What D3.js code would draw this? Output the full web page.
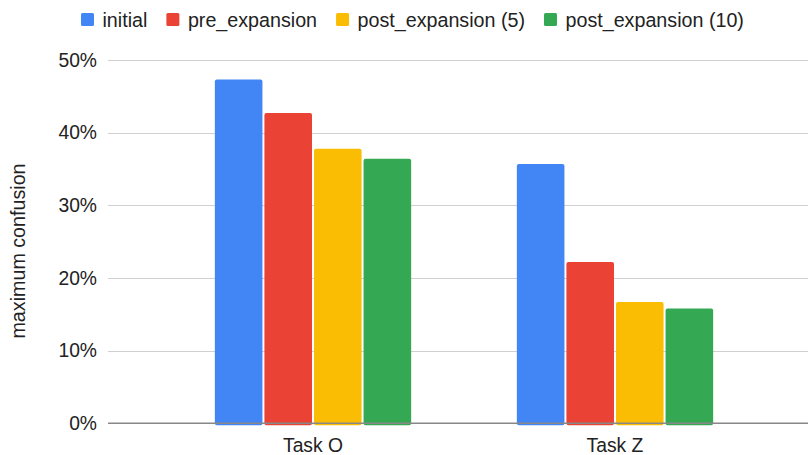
<!DOCTYPE html>
<html><head><meta charset="utf-8">
<script src="https://cdn.jsdelivr.net/npm/d3@7"></script>
<style>body{margin:0;background:#fff}svg{display:block;font-family:Arial,"Liberation Sans",sans-serif}</style>
</head><body>
<svg id="c" width="808" height="455"></svg>
<script>
const categories = ["Task O", "Task Z"];
const seriesNames = ["initial", "pre_expansion", "post_expansion (5)", "post_expansion (10)"];
const initial = [0.473, 0.357];
const preExpansion = [0.427, 0.222];
const postExpansion5 = [0.378, 0.167];
const postExpansion10 = [0.364, 0.158];
const yTicks = [0, 0.1, 0.2, 0.3, 0.4, 0.5];
const colors = ["#4285F4", "#EA4335", "#FBBC04", "#34A853"];
const yLabel = "maximum confusion";

const seriesValues = [initial, preExpansion, postExpansion5, postExpansion10];
const svg = d3.select("#c");
const plotLeft = 108, plotRight = 808, plotTop = 60, plotBottom = 423.3;
const FONT = "Arial, 'Liberation Sans', sans-serif";

const y = d3.scaleLinear().domain([0, 0.5]).range([plotBottom, plotTop]);
const x0 = d3.scaleBand().domain(categories).range([162, 766]).paddingInner(0.35).paddingOuter(0.175);
const x1 = d3.scaleBand().domain(seriesNames).range([0, x0.bandwidth()]).paddingInner(0.04);

// gridlines
svg.append("g").selectAll("line").data(yTicks.filter(d => d > 0)).join("line")
  .attr("x1", plotLeft).attr("x2", plotRight)
  .attr("y1", d => Math.round(y(d)) + 0.5).attr("y2", d => Math.round(y(d)) + 0.5)
  .attr("stroke", "#d0d0d0").attr("stroke-width", 1);

// y tick labels
const yAxis = d3.axisLeft(y).tickValues(yTicks).tickFormat(d3.format(".0%")).tickSize(0).tickPadding(0);
const ya = svg.append("g").attr("transform", `translate(97,0)`).call(yAxis);
ya.select(".domain").remove();
ya.selectAll("text").attr("font-size", 19.3).attr("fill", "#222").attr("font-family", FONT);

// bars
const groups = svg.append("g").selectAll("g").data(categories).join("g")
  .attr("transform", d => `translate(${x0(d)},0)`);
groups.selectAll("rect").data((d, i) => seriesNames.map((s, j) => ({s, v: seriesValues[j][i], j})))
  .join("rect")
  .attr("x", d => x1(d.s)).attr("width", x1.bandwidth())
  .attr("y", d => y(d.v)).attr("height", d => plotBottom - y(d.v) + 2)
  .attr("rx", 2).attr("fill", d => colors[d.j]);

// baseline
svg.append("line").attr("x1", plotLeft).attr("x2", plotRight)
  .attr("y1", plotBottom).attr("y2", plotBottom).attr("stroke", "#888").attr("stroke-width", 1.5);

// x labels
const xAxis = d3.axisBottom(x0).tickSize(0).tickPadding(0);
const xa = svg.append("g").attr("transform", `translate(0,${plotBottom})`).call(xAxis);
xa.select(".domain").remove();
xa.selectAll("text").attr("dy", null).attr("y", 28.5).attr("font-size", 19.3).attr("fill", "#222")
  .attr("font-family", FONT);

// y label
svg.append("text").attr("transform", `translate(25,251) rotate(-90)`)
  .attr("text-anchor", "middle").attr("font-size", 19.7).attr("fill", "#222").text(yLabel);

// legend
const leg = svg.append("g");
const items = leg.selectAll("g").data(seriesNames).join("g");
items.append("rect").attr("width", 13).attr("height", 13).attr("y", 13).attr("rx", 1.5).attr("fill", (d, i) => colors[i]);
items.append("text").attr("x", 21.5).attr("y", 26.5).attr("font-size", 19.7).attr("fill", "#222").text(d => d);
let cx = 0;
const gap = 19;
items.each(function() {
  const g = d3.select(this);
  const w = 21.5 + g.select("text").node().getComputedTextLength();
  g.attr("transform", `translate(${cx},0)`);
  cx += w + gap;
});
leg.attr("transform", `translate(81,0)`);
</script>
</body></html>
